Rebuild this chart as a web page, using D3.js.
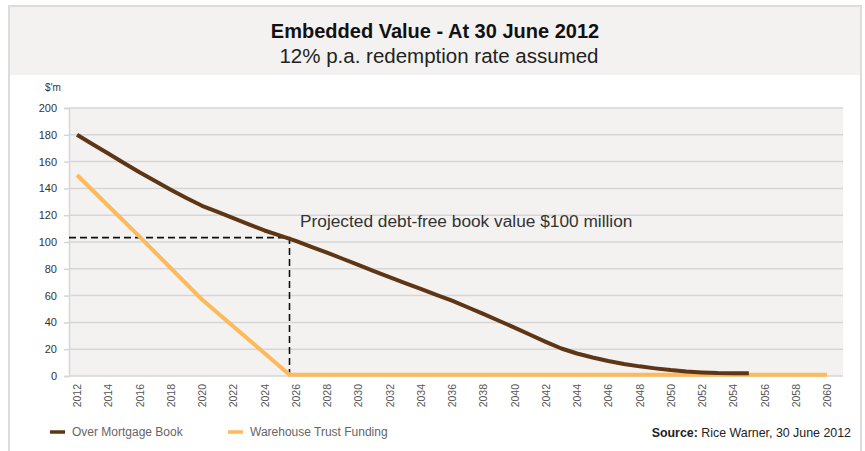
<!DOCTYPE html>
<html>
<head>
<meta charset="utf-8">
<title>Embedded Value</title>
<script src="https://cdn.jsdelivr.net/npm/d3@7"></script>
<style>
  body { margin: 0; background: #fff; }
  text { font-family: "Liberation Sans", Arial, sans-serif; }
</style>
</head>
<body>
<script>
// data
var bookYears = [2012, 2013, 2014, 2015, 2016, 2017, 2018, 2019, 2020, 2021, 2022, 2023, 2024, 2025,
                 2026, 2027, 2028, 2029, 2030, 2031, 2032, 2033, 2034, 2035, 2036, 2037, 2038, 2039,
                 2040, 2041, 2042, 2043, 2044, 2045, 2046, 2047, 2048, 2049, 2050, 2051, 2052, 2053,
                 2054, 2055];
var bookValues = [180, 173, 166, 159, 152, 145.5, 139, 132.8, 127, 122.4, 117.8, 113.2, 108.6, 104.8,
                  100.8, 96.4, 92, 87.5, 82.9, 78.2, 73.8, 69.4, 65, 60.5, 56.3, 51.3, 46.3, 41.2,
                  36.1, 30.8, 25.5, 20.5, 16.8, 13.8, 11.2, 9, 7.2, 5.7, 4.4, 3.4, 2.7, 2.2,
                  2, 2];
var trustYears = [2012, 2016, 2020, 2025.6, 2060];
var trustValues = [150, 104, 57, 1, 1];
var tickYears = d3.range(2012, 2061, 2);
var yTicks = [0, 20, 40, 60, 80, 100, 120, 140, 160, 180, 200];
var debtFree = { year: 2025.6, value: 103.3 };

var W = 865, H = 451;
var svg = d3.select("body").append("svg").attr("width", W).attr("height", H);

// card + header
svg.append("rect").attr("x", 9).attr("y", 6).attr("width", 852).attr("height", 460)
    .attr("fill", "#fff").attr("stroke", "#dcdcdc").attr("stroke-width", 2);
svg.append("rect").attr("x", 10).attr("y", 7).attr("width", 850).attr("height", 68)
    .attr("fill", "#f3f2f1");
svg.append("text").attr("x", 435).attr("y", 38).attr("text-anchor", "middle")
    .attr("font-size", 20).attr("font-weight", "bold").attr("fill", "#111")
    .text("Embedded Value - At 30 June 2012");
svg.append("text").attr("x", 439).attr("y", 63).attr("text-anchor", "middle")
    .attr("font-size", 20.5).attr("fill", "#222")
    .text("12% p.a. redemption rate assumed");

var plotL = 69, plotR = 843, plotT = 108, plotB = 376;
var x = d3.scaleLinear().domain([2012, 2060]).range([77, 827]);
var y = d3.scaleLinear().domain([0, 200]).range([plotB, plotT]);

svg.append("rect").attr("x", plotL).attr("y", plotT).attr("width", plotR - plotL).attr("height", plotB - plotT)
    .attr("fill", "#f3f2f1");

// y axis + gridlines
var yAxis = svg.append("g").attr("transform", "translate(" + plotL + ",0)")
    .call(d3.axisLeft(y).tickValues(yTicks).tickSize(5).tickPadding(7));
yAxis.select(".domain").attr("stroke", "#d6d6d6").attr("stroke-width", 1.5);
yAxis.selectAll(".tick line").attr("stroke", "#d6d6d6").attr("stroke-width", 1.5);
yAxis.selectAll(".tick text").attr("font-size", 11).attr("fill", "#333")
    .style("font-family", "'Liberation Sans', Arial, sans-serif");

svg.append("g").selectAll("line").data(yTicks).join("line")
    .attr("x1", plotL).attr("x2", plotR)
    .attr("y1", function (d) { return y(d); }).attr("y2", function (d) { return y(d); })
    .attr("stroke", "#d6d6d6").attr("stroke-width", 1.5);

svg.append("text").attr("x", 53).attr("y", 91).attr("text-anchor", "middle")
    .attr("font-size", 10).attr("fill", "#333").text("$'m");

// x axis labels
var xAxis = svg.append("g").attr("transform", "translate(0," + plotB + ")")
    .call(d3.axisBottom(x).tickValues(tickYears).tickSize(0).tickFormat(d3.format("d")));
xAxis.select(".domain").remove();
xAxis.selectAll(".tick text")
    .attr("transform", "rotate(-90)")
    .attr("text-anchor", "end")
    .attr("x", -8).attr("y", 0).attr("dy", "0.35em")
    .attr("font-size", 10.5).attr("fill", "#555")
    .style("font-family", "'Liberation Sans', Arial, sans-serif");

// dashed guide lines
svg.append("path")
    .attr("d", "M" + plotL + "," + y(debtFree.value) + "H" + x(debtFree.year) + "V" + y(0))
    .attr("fill", "none").attr("stroke", "#111").attr("stroke-width", 1.6)
    .attr("stroke-dasharray", "7,4");

// series
var line = d3.line().x(function (d) { return x(d[0]); }).y(function (d) { return y(d[1]); });
svg.append("path").datum(d3.zip(trustYears, trustValues)).attr("d", line)
    .attr("fill", "none").attr("stroke", "#fdb95a").attr("stroke-width", 4);
svg.append("path").datum(d3.zip(bookYears, bookValues)).attr("d", line)
    .attr("fill", "none").attr("stroke", "#5e3615").attr("stroke-width", 4)
    .attr("stroke-linejoin", "round");

svg.append("text").attr("x", 300).attr("y", 227).attr("font-size", 17.3).attr("fill", "#333")
    .text("Projected debt-free book value $100 million");

// legend
var legend = [{ name: "Over Mortgage Book", color: "#5e3615", x: 50 },
              { name: "Warehouse Trust Funding", color: "#fdb95a", x: 228 }];
var lg = svg.append("g").selectAll("g").data(legend).join("g")
    .attr("transform", function (d) { return "translate(" + d.x + ",432)"; });
lg.append("line").attr("x1", 0).attr("x2", 15).attr("stroke", function (d) { return d.color; })
    .attr("stroke-width", 3.5);
lg.append("text").attr("x", 22).attr("y", 4).attr("font-size", 12).attr("fill", "#666")
    .text(function (d) { return d.name; });

var src = svg.append("text").attr("x", 851).attr("y", 437).attr("text-anchor", "end")
    .attr("font-size", 12.4).attr("fill", "#222");
src.append("tspan").attr("font-weight", "bold").text("Source:");
src.append("tspan").text(" Rice Warner, 30 June 2012");
</script>
</body>
</html>
